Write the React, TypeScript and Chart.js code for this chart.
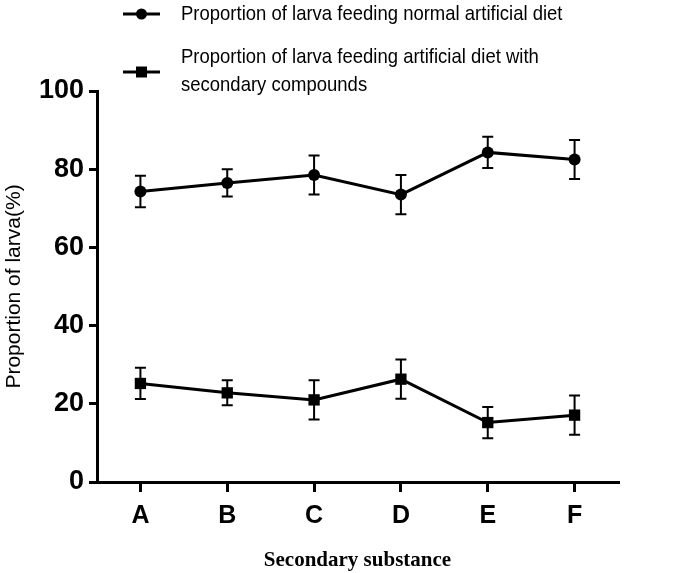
import React, { useEffect, useRef } from "react";
import { Chart, registerables } from "chart.js";

Chart.register(...registerables);

const categories = ["A", "B", "C", "D", "E", "F"];
const normalLabel = "Proportion of larva feeding normal artificial diet";
const secondaryLabel = [
  "Proportion of larva feeding artificial diet with",
  "secondary compounds",
];
const normalValues = [74.3, 76.5, 78.5, 73.5, 84.3, 82.5];
const normalErrors = [4, 3.5, 5, 5, 4, 5];
const secondaryValues = [25.2, 22.8, 21, 26.3, 15.2, 17.1];
const secondaryErrors = [4, 3.2, 5, 5, 4, 5];
const yTicks = [0, 20, 40, 60, 80, 100];
const xTitle = "Secondary substance";
const yTitle = "Proportion of larva(%)";

const errs = [normalErrors, secondaryErrors];

const errorBarPlugin = {
  id: "errorBars",
  afterDatasetsDraw(chart: any) {
    const ctx = chart.ctx;
    const yScale = chart.scales.y;
    const xScale = chart.scales.x;
    ctx.save();
    ctx.strokeStyle = "#000";
    ctx.lineWidth = 2;
    chart.data.datasets.forEach((ds: any, di: number) => {
      const e = errs[di];
      ds.data.forEach((v: number, i: number) => {
        const x = xScale.getPixelForValue(i);
        const yT = yScale.getPixelForValue(v + e[i]);
        const yB = yScale.getPixelForValue(v - e[i]);
        ctx.beginPath();
        ctx.moveTo(x, yT);
        ctx.lineTo(x, yB);
        ctx.moveTo(x - 5.5, yT);
        ctx.lineTo(x + 5.5, yT);
        ctx.moveTo(x - 5.5, yB);
        ctx.lineTo(x + 5.5, yB);
        ctx.stroke();
      });
    });
    ctx.restore();
  },
};

const legendPlugin = {
  id: "customLegend",
  afterDraw(chart: any) {
    const ctx = chart.ctx;
    ctx.save();
    ctx.fillStyle = "#000";
    ctx.strokeStyle = "#000";
    ctx.font = "18.5px 'Liberation Sans', Arial, sans-serif";
    ctx.textBaseline = "alphabetic";
    ctx.textAlign = "left";
    const entries = [
      { lines: [normalLabel], style: "circle", y: 14, baselines: [19.5] },
      { lines: secondaryLabel, style: "rect", y: 72, baselines: [62.5, 90.5] },
    ];
    entries.forEach((en) => {
      ctx.lineWidth = 3;
      ctx.beginPath();
      ctx.moveTo(123, en.y);
      ctx.lineTo(160, en.y);
      ctx.stroke();
      ctx.beginPath();
      if (en.style === "circle") {
        ctx.arc(141.5, en.y, 5.5, 0, Math.PI * 2);
      } else {
        ctx.rect(136, en.y - 5.5, 11, 11);
      }
      ctx.fill();
      en.lines.forEach((t, k) => {
        ctx.save();
        ctx.translate(181, en.baselines[k]);
        ctx.scale(1, 1.13);
        ctx.fillText(t, 0, 0);
        ctx.restore();
      });
    });
    ctx.restore();
  },
};

export default function App() {
  const ref = useRef<HTMLCanvasElement>(null);
  useEffect(() => {
    document.body.style.margin = "0";
    const chart = new Chart(ref.current!, {
      type: "line",
      data: {
        labels: categories,
        datasets: [
          {
            label: normalLabel,
            data: normalValues,
            borderColor: "#000",
            backgroundColor: "#000",
            borderWidth: 3,
            pointStyle: "circle",
            pointRadius: 6,
            pointBackgroundColor: "#000",
            pointBorderWidth: 0,
            tension: 0,
          },
          {
            label: secondaryLabel.join(" "),
            data: secondaryValues,
            borderColor: "#000",
            backgroundColor: "#000",
            borderWidth: 3,
            pointStyle: "rect",
            pointRadius: 8,
            pointBackgroundColor: "#000",
            pointBorderWidth: 0,
            tension: 0,
          },
        ],
      },
      options: {
        animation: false,
        responsive: false,
        layout: { padding: { left: 0, right: 82, top: 91, bottom: 0 } },
        plugins: {
          legend: { display: false },
          tooltip: { enabled: false },
        },
        scales: {
          x: {
            offset: true,
            grid: {
              display: true,
              drawOnChartArea: false,
              drawTicks: true,
              tickLength: 10,
              color: "#000",
              lineWidth: 3,
              offset: false,
            },
            border: { display: true, color: "#000", width: 3 },
            ticks: {
              color: "#000",
              padding: 9,
              font: { family: "'Liberation Sans', Arial", size: 25, weight: "bold" },
            },
            title: {
              display: true,
              text: xTitle,
              color: "#000",
              padding: { top: 6, bottom: 0 },
              font: { family: "'Liberation Serif', 'Times New Roman'", size: 21, weight: "bold" },
            },
            afterFit(scale: any) {
              scale.height = 91;
            },
          },
          y: {
            min: 0,
            max: 100,
            afterBuildTicks(scale: any) {
              scale.ticks = yTicks.map((v) => ({ value: v }));
            },
            grid: {
              display: true,
              drawOnChartArea: false,
              drawTicks: true,
              tickLength: 8,
              color: "#000",
              lineWidth: 3,
            },
            border: { display: true, color: "#000", width: 3 },
            ticks: {
              color: "#000",
              padding: 5,
              font: { family: "'Liberation Sans', Arial", size: 27, weight: "bold" },
            },
            title: {
              display: true,
              text: yTitle,
              color: "#000",
              padding: { top: 2, bottom: 0 },
              font: { family: "'Liberation Sans', Arial", size: 21 },
            },
            afterFit(scale: any) {
              scale.width = 97;
            },
          },
        },
      },
      plugins: [errorBarPlugin, legendPlugin],
    });
    return () => chart.destroy();
  }, []);
  return (
    <div style={{ width: 700, height: 573, background: "#fff" }}>
      <canvas ref={ref} width={700} height={573} style={{ display: "block" }} />
    </div>
  );
}
